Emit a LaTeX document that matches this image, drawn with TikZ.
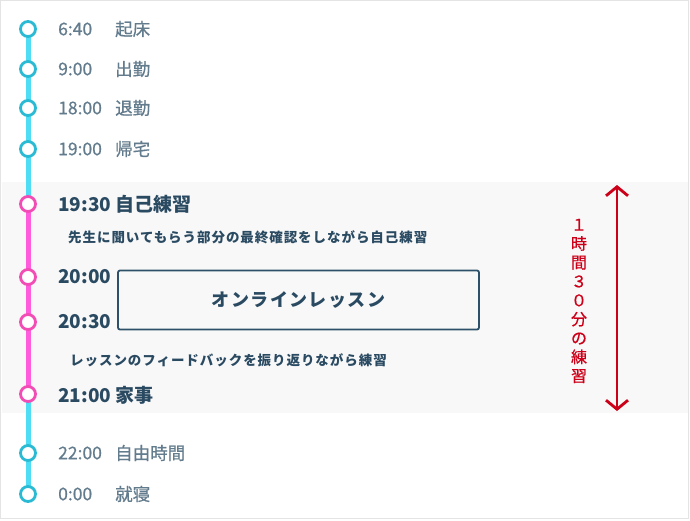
\documentclass[tikz,border=0pt]{standalone}
\usepackage{fontspec}
\setmainfont{Noto Sans CJK JP}
\newfontfamily\medium[FakeBold=0.6]{Noto Sans CJK JP}
\newfontfamily\spaced[LetterSpace=7]{Noto Sans CJK JP}
\newfontfamily\spacedb[LetterSpace=8]{Noto Sans CJK JP}
\usetikzlibrary{arrows.meta}
\definecolor{cyanline}{HTML}{4FDDF5}
\definecolor{cyanring}{HTML}{2BBAD3}
\definecolor{pinkline}{HTML}{FF5CDD}
\definecolor{pinkring}{HTML}{F24CB5}
\definecolor{graytxt}{HTML}{637C8D}
\definecolor{darktxt}{HTML}{2A4A62}
\definecolor{boxline}{HTML}{2C5169}
\definecolor{band}{HTML}{F8F8F8}
\definecolor{frame}{HTML}{E4E4E4}
\definecolor{redarrow}{HTML}{CC0018}
\tikzset{
  dotc/.style={circle,draw=cyanring,fill=white,line width=2.8pt,minimum size=15pt,inner sep=0pt},
  dotp/.style={circle,draw=pinkring,fill=white,line width=2.8pt,minimum size=15pt,inner sep=0pt},
  tm/.style={anchor=west,text=graytxt,font=\medium\fontsize{17.5}{19}\selectfont,inner sep=0pt},
  bt/.style={anchor=west,text=darktxt,font=\fontsize{19}{21}\selectfont\bfseries,inner sep=0pt},
  st/.style={anchor=west,text=darktxt,font=\spaced\fontsize{13.5}{15}\selectfont\bfseries,inner sep=0pt},
}
\begin{document}
\begin{tikzpicture}[x=1pt,y=1pt]
\useasboundingbox (0,0) rectangle (690,-520);
\draw[frame,line width=1.2pt,fill=white] (0.6,-0.6) rectangle (688.6,-518.6);
\fill[band] (1.5,-182) rectangle (687.6,-413);
% nodes
\coordinate (c1) at (28,-29);
\coordinate (c2) at (28,-69);
\coordinate (c3) at (28,-108);
\coordinate (c4) at (28,-149);
\coordinate (p1) at (28,-204);
\coordinate (p2) at (28,-277);
\coordinate (p3) at (28,-322);
\coordinate (p4) at (28,-394);
\coordinate (c5) at (28,-453);
\coordinate (c6) at (28,-494);
\draw[cyanline,line width=5pt] (c1) -- (p1);
\draw[cyanline,line width=5pt] (p4) -- (c6);
\draw[pinkline,line width=5pt] (p1) -- (p4);
\foreach \n in {c1,c2,c3,c4,c5,c6} \node[dotc] at (\n) {};
\foreach \n in {p1,p2,p3,p4} \node[dotp] at (\n) {};
% labels
\node[tm] (t1) at (58,-29) {6:40};   \node[tm] (l1) at (115,-29) {起床};
\node[tm] (t2) at (58,-69) {9:00};   \node[tm] (l2) at (115,-69) {出勤};
\node[tm] (t3) at (58,-108) {18:00}; \node[tm] (l3) at (115,-108) {退勤};
\node[tm] (t4) at (58,-149) {19:00}; \node[tm] (l4) at (115,-149) {帰宅};
\node[bt] (t5) at (58,-204) {19:30 自己練習};
\node[st] (s1) at (68,-237) {先生に聞いてもらう部分の最終確認をしながら自己練習};
\node[bt] (t6) at (58,-277) {20:00};
\node[bt] (t7) at (58,-322) {20:30};
\node[draw=boxline,line width=1.8pt,rounded corners=2pt,minimum width=361pt,minimum height=59pt,
      text=darktxt,font=\spacedb\fontsize{18}{20}\selectfont\bfseries] (box) at (298.5,-300) {オンラインレッスン};
\node[st] (s2) at (70,-360) {レッスンのフィードバックを振り返りながら練習};
\node[bt] (t8) at (58,-395) {21:00 家事};
\node[tm] (t9) at (58,-453) {22:00}; \node[tm] (l9) at (115,-453) {自由時間};
\node[tm] (t10) at (58,-494) {0:00}; \node[tm] (l10) at (115,-494) {就寝};
% arrow
\coordinate (atop) at (617,-185);
\coordinate (abot) at (617,-411);
\draw[redarrow,line width=2.8pt,{Straight Barb[length=9pt,width=22pt]}-{Straight Barb[length=9pt,width=22pt]}] (atop) -- (abot);
\node[text=redarrow,font=\medium\fontsize{16}{18.9}\selectfont,align=center,inner sep=0pt] (vt) at (579,-301)
  {１\\時\\間\\３\\０\\分\\の\\練\\習};
\end{tikzpicture}
\end{document}
